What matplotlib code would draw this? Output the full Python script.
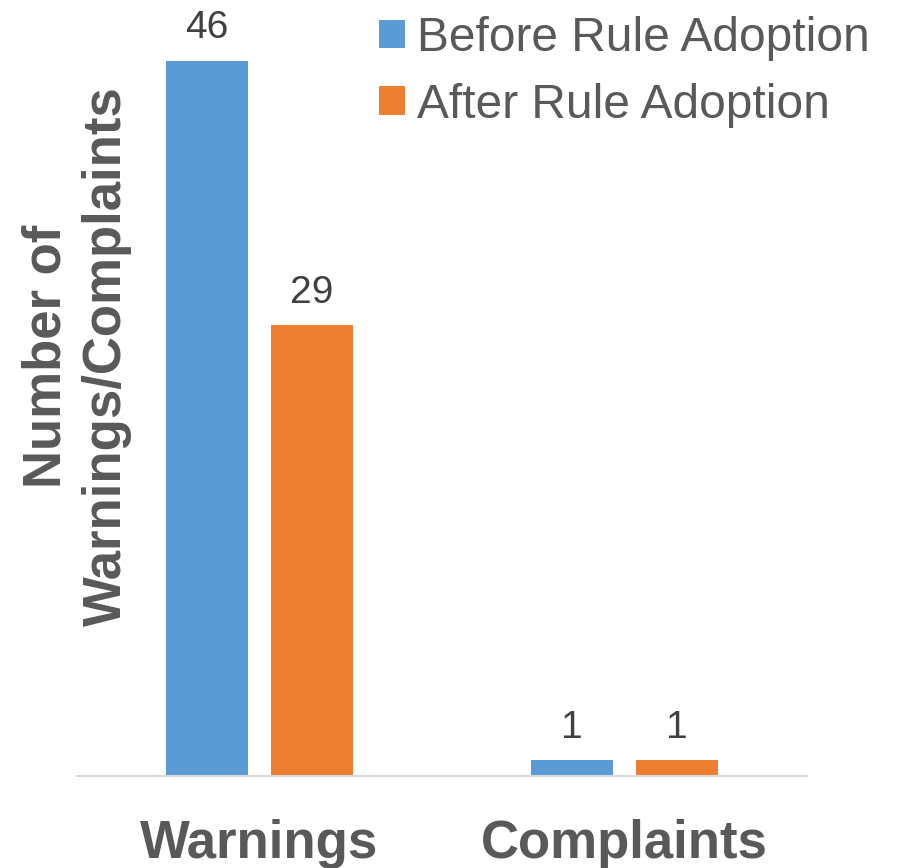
import numpy as np
import matplotlib
matplotlib.use("Agg")
import matplotlib.pyplot as plt

categories = ["Warnings", "Complaints"]
before = [46, 1]
after = [29, 1]
series_names = ["Before Rule Adoption", "After Rule Adoption"]

plt.rcParams["font.family"] = ["Liberation Sans", "DejaVu Sans"]

fig = plt.figure(figsize=(8.97, 8.68), dpi=100)
ax = fig.add_axes([0.0858, 0.106, 0.8138, 0.894])

x = np.arange(len(categories))
w = 0.225
off = 0.144
b1 = ax.bar(x - off, before, w, color="#5B9BD5", label=series_names[0])
b2 = ax.bar(x + off, after, w, color="#ED7D31", label=series_names[1])

for bars in (b1, b2):
    for r in bars:
        ax.text(r.get_x() + r.get_width() / 2, r.get_height() + 0.95, f"{int(r.get_height())}",
                ha="center", va="bottom", fontsize=28, color="#404040")

ax.set_xlim(-0.5, 1.5)
ax.set_ylim(0, 49.94)
ax.set_xticks(x)
ax.set_xticklabels(categories, fontsize=38, fontweight="bold", color="#595959")
ax.tick_params(axis="x", length=0, pad=31)
ax.set_yticks([])
for s in ["top", "right", "left"]:
    ax.spines[s].set_visible(False)
ax.spines["bottom"].set_color("#D9D9D9")
ax.spines["bottom"].set_linewidth(1.5)

ax.set_ylabel("Number of\nWarnings/Complaints", fontsize=38, fontweight="bold",
              color="#595959", linespacing=1.27)
ax.yaxis.set_label_coords(0.075, 0.541)

leg = fig.legend(loc="upper left", bbox_to_anchor=(379 / 897, 1 - 16 / 868), frameon=False,
                 fontsize=34.5, handlelength=0.55, handleheight=0.55, handletextpad=0.25,
                 labelspacing=0.45, borderpad=0, borderaxespad=0, labelcolor="#595959")

fig.savefig("out.png", dpi=100)
